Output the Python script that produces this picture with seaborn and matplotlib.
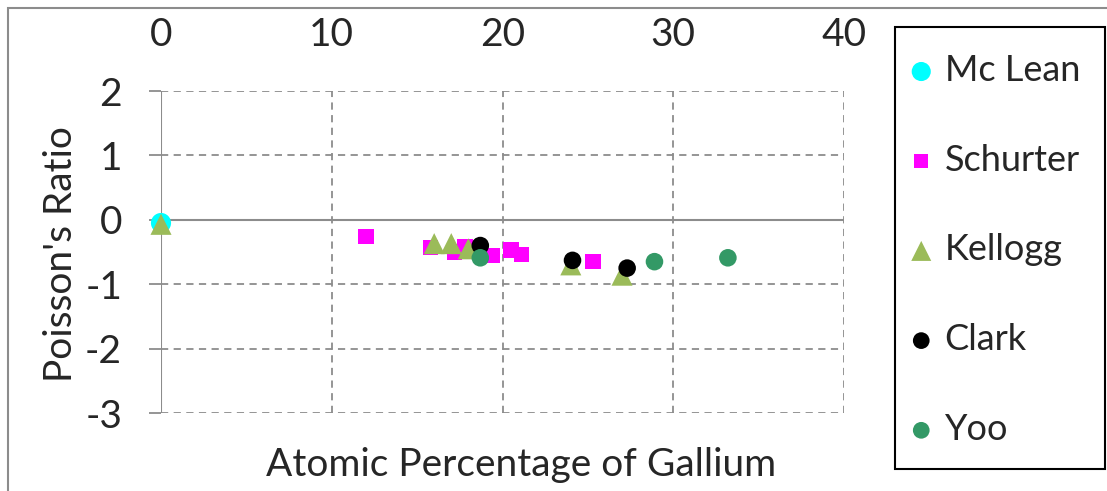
import numpy as np
import pandas as pd
import seaborn as sns
import matplotlib.pyplot as plt
from matplotlib.patches import Rectangle

# values
mclean_x = [0.0]
mclean_y = [-0.05]
schurter_x = [12.0, 15.8, 17.2, 17.8, 19.4, 20.5, 21.1, 25.3]
schurter_y = [-0.26, -0.43, -0.50, -0.42, -0.55, -0.47, -0.54, -0.65]
kellogg_x = [0.0, 16.0, 17.0, 18.0, 24.0, 27.0]
kellogg_y = [-0.07, -0.37, -0.37, -0.45, -0.70, -0.86]
clark_x = [18.7, 24.1, 27.3]
clark_y = [-0.40, -0.63, -0.75]
yoo_x = [18.7, 28.9, 33.2]
yoo_y = [-0.59, -0.65, -0.59]

series = [
    ('Mc Lean', mclean_x, mclean_y, '#00FFFF', 'o', 210),
    ('Schurter', schurter_x, schurter_y, '#FF00FF', 's', 120),
    ('Kellogg', kellogg_x, kellogg_y, '#9BBB59', '^', 230),
    ('Clark', clark_x, clark_y, '#000000', 'o', 160),
    ('Yoo', yoo_x, yoo_y, '#339966', 'o', 160),
]

sns.set_style('white')
plt.rcParams['font.family'] = ['Lato', 'DejaVu Sans']
plt.rcParams['axes.unicode_minus'] = False
fs = 28
W, H = 1107, 491

fig = plt.figure(figsize=(W/100, H/100), dpi=100)
ax = fig.add_axes([161/W, 1 - 413/H, (844-161)/W, (413-91)/H])

grid_c = '#8C8C8C'
for v in [10, 20, 30, 40]:
    ax.axvline(v, color=grid_c, lw=1.3, ls=(0, (4, 3)), zorder=0)
for v in [2, 1, -1, -2, -3]:
    ax.axhline(v, color=grid_c, lw=1.3, ls=(0, (4, 3)), zorder=0)
ax.axhline(0, color=grid_c, lw=1.5, zorder=1)
ax.axvline(0, color=grid_c, lw=1.5, zorder=1)

for name, xs, ys, col, mk, s in series:
    df = pd.DataFrame({'x': xs, 'y': ys})
    sns.scatterplot(data=df, x='x', y='y', ax=ax, color=col, marker=mk, s=s,
                    edgecolor='none', label=name, zorder=3, clip_on=False)

ax.set_xlim(0, 40)
ax.set_ylim(-3, 2)
ax.set_xticks([0, 10, 20, 30, 40])
ax.set_yticks([2, 1, 0, -1, -2, -3])
ax.xaxis.tick_top()
ax.tick_params(axis='x', length=0, pad=27, labelsize=fs)
ax.tick_params(axis='y', length=9, width=1.3, color=grid_c, pad=19, labelsize=fs, left=True)
for sp in ax.spines.values():
    sp.set_visible(False)

ax.set_xlabel('')
ax.set_ylabel('')
fig.text(521/W, 1 - 465/H, 'Atomic Percentage of Gallium', fontsize=fs,
         ha='center', va='center')
fig.text(61/W, 1 - 254/H, "Poisson's Ratio", fontsize=fs, rotation=90,
         ha='center', va='center')

# legend: own frame, entries placed inside it
ax.get_legend().remove()
handles, labels = ax.get_legend_handles_labels()
leg = fig.legend(handles, labels, loc='upper left',
                 bbox_to_anchor=(905/W, 1 - 54/H), frameon=False,
                 fontsize=26, labelspacing=1.57,
                 handletextpad=0.2, borderpad=0, markerscale=0.95,
                 handlelength=0.9, borderaxespad=0)
fig.patches.append(Rectangle((895/W, 1 - 469/H), 210/W, 442/H,
                             transform=fig.transFigure, fill=False,
                             edgecolor='black', lw=1.5))

# outer chart frame (cropped)
fig.patches.append(Rectangle((8/W, -0.1), 1.2, 1 - 8/H + 0.1,
                             transform=fig.transFigure, fill=False,
                             edgecolor='#8C8C8C', lw=1.5))

fig.savefig('out.png', dpi=100)
